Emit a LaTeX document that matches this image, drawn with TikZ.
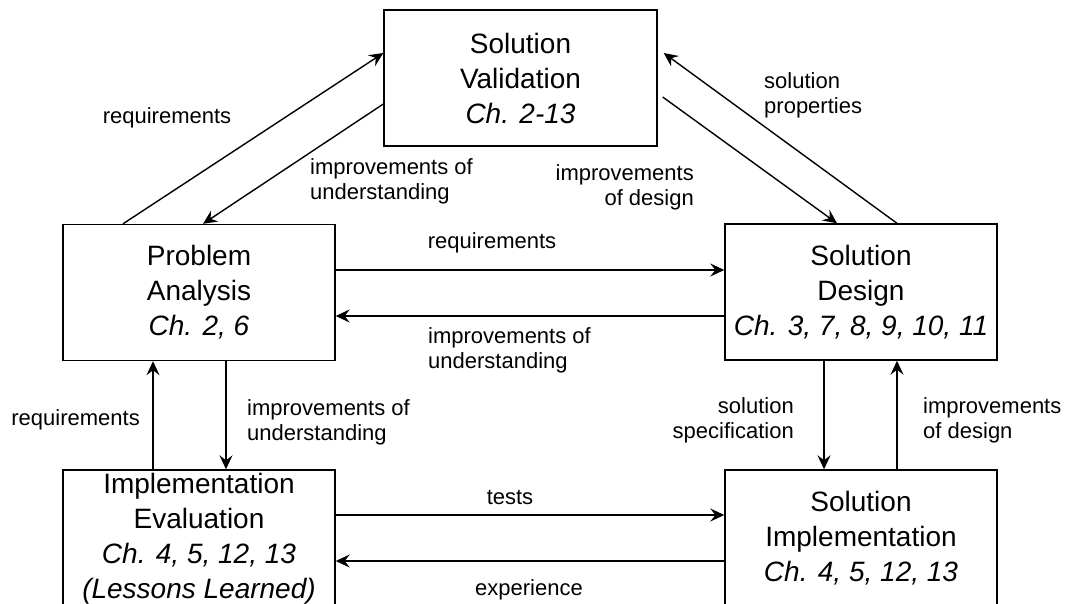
\documentclass[tikz,border=0pt]{standalone}
\usepackage{fontspec}
\setmainfont{Liberation Sans}
\usetikzlibrary{arrows.meta}
\begin{document}
\begin{tikzpicture}[x=1pt,y=-1pt,
  stage/.style={draw,line width=1.4pt,fill=white,minimum width=272pt,minimum height=136pt,
    inner sep=0pt,align=center,font=\fontsize{28}{35}\selectfont},
  lbl/.style={inner sep=0pt,font=\fontsize{22}{25}\selectfont},
  arr/.style={line width=1.4pt,-{Stealth[length=14pt,width=13pt,inset=5pt]}}]
\useasboundingbox (0,0) rectangle (1065,603);
\clip (0,0) rectangle (1065,603);
\fill[white] (0,0) rectangle (1065,603);

% process stages
\node[stage,minimum width=273pt] (val) at (520.5,78) {Solution\\Validation\\\textit{Ch. 2-13}};
\node[stage] (pa) at (199,292.5) {Problem\\Analysis\\\textit{Ch. 2, 6}};
\node[stage] (sd) at (861,292) {Solution\\Design\\\textit{Ch. 3, 7, 8, 9, 10, 11}};
\node[stage,minimum height=137pt] (ie) at (199,538.5) {Implementation\\Evaluation\\\textit{Ch. 4, 5, 12, 13}\\\textit{(Lessons Learned)}};
\node[stage,minimum height=137pt] (si) at (861,538.5) {Solution\\Implementation\\\textit{Ch. 4, 5, 12, 13}};

% flows between stages (shifts are in page direction: positive yshift is upward)
\draw[arr] ([xshift=-76pt]pa.north) -- ([yshift=25pt]val.west);
\draw[arr] ([yshift=-26pt]val.west) -- ([xshift=4pt]pa.north);
\draw[arr] ([xshift=5pt,yshift=-19pt]val.east) -- ([xshift=-24pt]sd.north);
\draw[arr] ([xshift=36pt]sd.north) -- ([xshift=6pt,yshift=25pt]val.east);
\draw[arr] ([yshift=22.5pt]pa.east) -- ([yshift=22pt]sd.west);
\draw[arr] ([yshift=-24pt]sd.west) -- ([yshift=-23.5pt]pa.east);
\draw[arr] ([xshift=27pt]pa.south) -- ([xshift=27pt]ie.north);
\draw[arr] ([xshift=-46pt]ie.north) -- ([xshift=-46pt]pa.south);
\draw[arr] ([xshift=-37pt]sd.south) -- ([xshift=-37pt]si.north);
\draw[arr] ([xshift=36pt]si.north) -- ([xshift=36pt]sd.south);
\draw[arr] ([yshift=23.5pt]ie.east) -- ([yshift=23.5pt]si.west);
\draw[arr] ([yshift=-22.5pt]si.west) -- ([yshift=-22.5pt]ie.east);

% flow labels
\node[lbl] (l1) at (167,118) {requirements};
\node[lbl,anchor=west,align=left] (l2) at (310,181) {improvements of\\understanding};
\node[lbl,anchor=east,align=right] (l3) at (694,187) {improvements\\of design};
\node[lbl,anchor=west,align=left] (l4) at (764,95) {solution\\properties};
\node[lbl] (l5) at (492,243) {requirements};
\node[lbl,anchor=west,align=left] (l6) at (428,350) {improvements of\\understanding};
\node[lbl,anchor=east] (l7) at (140,420) {requirements};
\node[lbl,anchor=west,align=left] (l8) at (247,422.5) {improvements of\\understanding};
\node[lbl,anchor=east,align=right] (l9) at (794,420.5) {solution\\specification};
\node[lbl,anchor=west,align=left] (l10) at (923,420.5) {improvements\\of design};
\node[lbl] (l11) at (510,497) {tests};
\node[lbl] (l12) at (529,590) {experience};
\end{tikzpicture}
\end{document}
